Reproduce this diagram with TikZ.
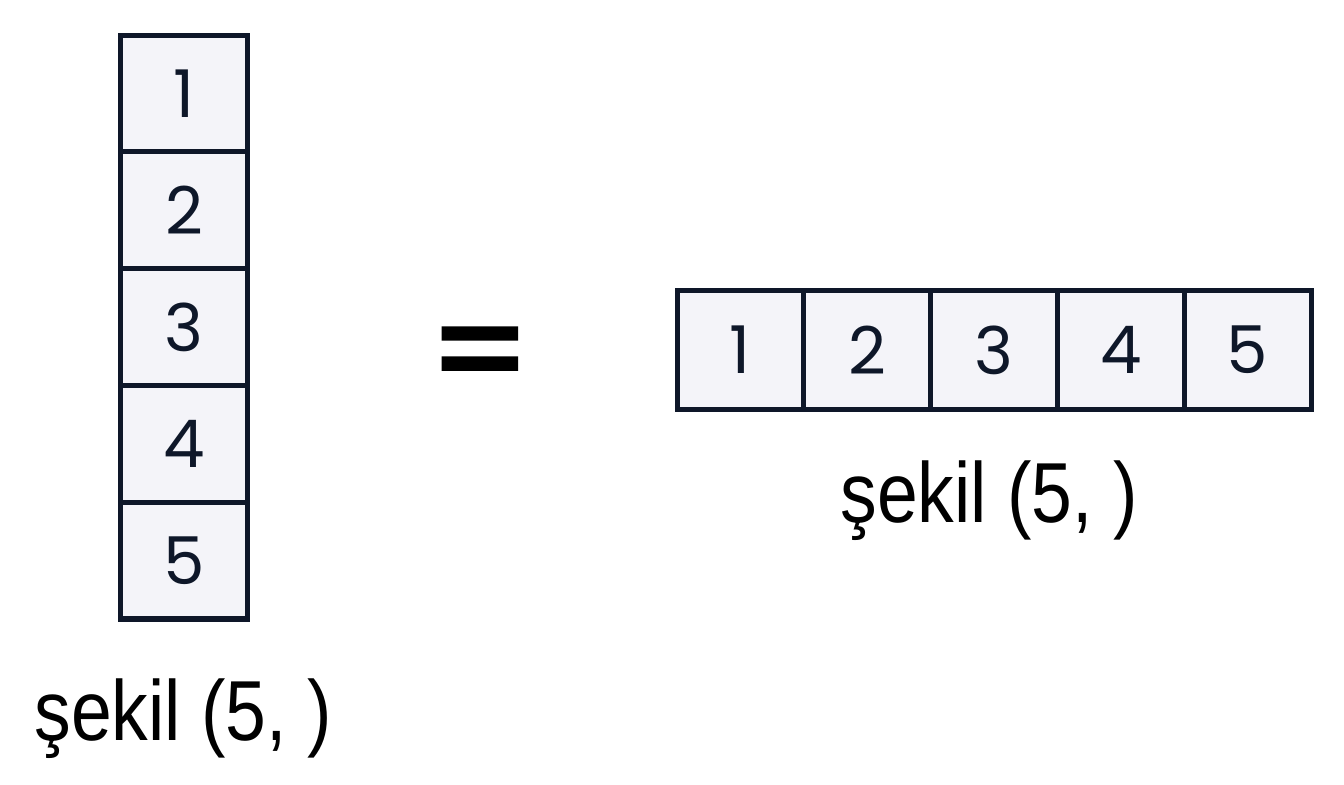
\documentclass[tikz,border=0pt]{standalone}
\usepackage{fontspec}
\usepackage{xcolor}
\usepackage{tikz}
\usetikzlibrary{positioning}
\newfontfamily\digitfont{Poppins}
\newfontfamily\eqfont[FakeBold=2.5]{Poppins}
\newfontfamily\labelfont[FakeStretch=0.86]{Liberation Sans}
\definecolor{cellfill}{HTML}{F4F4F9}
\definecolor{cellline}{HTML}{0E1729}

\begin{document}
\begin{tikzpicture}[x=0.02cm,y=-0.02cm,
    vcell/.style={draw=cellline,fill=cellfill,line width=2.85pt,minimum width=2.56cm,minimum height=2.336cm,inner sep=0pt,text=cellline,font=\digitfont\fontsize{37.5}{40}\selectfont},
    hcell/.style={vcell,minimum width=2.536cm,minimum height=2.4cm},
    shapelabel/.style={anchor=base,inner sep=0pt,font=\labelfont\fontsize{48.5}{52}\selectfont}]
      \useasboundingbox[fill=white] (0,0) rectangle (1344,784);
      % column of five
      \foreach \i in {1,...,5}
        \node[vcell] (v\i) at (184,{35+116.8*(\i-0.5)}) {\i};
      % row of five
      \foreach \i in {1,...,5}
        \node[hcell] (h\i) at ({677+126.8*(\i-0.5)},350) {\i};
      \node[font=\eqfont\fontsize{80}{80}\selectfont,inner sep=0pt] (eq) at (480,364) {=};
      \node[shapelabel] (vlabel) at (183,740) {şekil (5, )};
      \node[shapelabel] (hlabel) at (989,522) {şekil (5, )};
    \end{tikzpicture}
\end{document}
